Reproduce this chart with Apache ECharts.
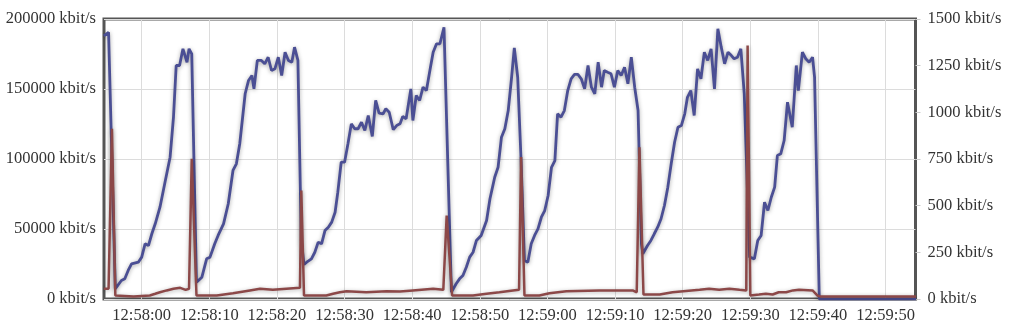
<!DOCTYPE html>
<html>
<head>
<meta charset="utf-8">
<script src="https://cdn.jsdelivr.net/npm/echarts@6/dist/echarts.min.js"></script>
<style>html,body{margin:0;padding:0;background:#fff}#chart{width:1023px;height:331px}</style>
</head>
<body>
<div id="chart"></div>
<script>
// x values: seconds relative to 12:58:00
const tickSeconds = [0, 10, 20, 30, 40, 50, 60, 70, 80, 90, 100, 110];
const tickLabels = ['12:58:00','12:58:10','12:58:20','12:58:30','12:58:40','12:58:50','12:59:00','12:59:10','12:59:20','12:59:30','12:59:40','12:59:50'];
const viewStart = -5.575;   // 12:57:54.4
const viewEnd = 114.425;    // 12:59:54.4

// blue series (left axis, kbit/s)
const blueTimes = [-5.6,-4.9,-3.9,-3.0,-2.5,-2.0,-1.5,-0.5,0.0,0.5,1.0,1.5,2.0,2.7,3.4,4.2,4.7,5.1,5.6,6.1,6.7,7.0,7.4,
  8.1,8.9,9.6,10.1,10.8,11.3,12.1,12.8,13.5,14.0,14.5,15.3,15.8,16.3,16.6,17.1,17.7,18.2,18.7,19.2,19.7,20.2,20.7,21.2,21.7,22.2,22.6,23.1,23.6,
  24.0,24.4,25.1,25.6,26.1,26.6,27.1,27.6,28.1,28.6,29.0,29.5,30.0,30.5,31.0,31.5,32.0,32.5,33.0,33.5,34.1,34.6,35.1,35.7,36.1,36.6,37.2,37.7,38.2,38.6,39.1,39.8,40.1,40.6,41.1,41.6,42.1,42.7,43.1,43.6,44.1,44.7,
  45.8,46.5,47.0,47.5,48.0,48.5,49.0,49.5,50.2,51.0,51.5,52.2,52.7,53.2,53.7,54.2,54.7,55.1,55.6,56.1,56.6,
  57.1,57.6,58.1,58.6,59.1,59.6,60.1,60.6,61.1,61.5,62.0,62.5,63.0,63.5,64.0,64.5,65.0,65.5,66.0,66.5,67.0,67.5,68.0,68.4,68.9,69.4,69.9,70.4,70.9,71.4,71.9,72.4,72.9,73.4,73.9,
  74.1,74.8,75.3,75.8,76.3,76.8,77.3,77.8,78.3,78.8,79.3,79.8,80.3,80.7,81.2,81.7,82.2,82.7,83.2,83.7,84.2,84.7,85.2,85.7,86.2,86.7,87.2,87.6,88.1,88.6,89.1,
  89.9,90.6,91.1,91.6,92.1,92.6,93.1,93.6,94.0,94.5,95.0,95.5,96.2,96.8,97.1,97.7,98.2,98.7,99.2,99.5,100.2,105,110,114.5];
const blueValues = [188000,190500,7300,13200,14400,20400,25100,26300,29900,39400,38200,46600,53700,65600,82300,101300,129900,166800,166800,178700,169100,178700,175100,
  12000,15600,28700,29900,39400,45400,53700,68000,91800,96600,110900,146600,156100,159600,150100,170400,170400,168000,172700,163200,164400,172700,159600,176300,170400,169100,179900,170400,41800,
  24600,26300,28700,33400,40600,39400,48900,51300,54900,62000,76300,97700,97700,110900,125100,121600,121600,126300,120400,131100,116100,141800,132700,132300,135900,133400,120900,123900,125100,130400,128700,150100,127500,145400,141800,151300,148900,165600,176300,182300,182300,194100,
  4900,10900,14400,16800,22700,29900,33400,41800,45400,56100,71600,87000,94100,115600,121600,134600,158400,179400,158400,98900,27500,
  26300,39400,45400,50100,58400,63200,73900,94100,98900,132300,129900,134600,148900,157300,160400,160400,157300,150100,166800,151300,146600,169100,151300,163200,162000,160900,151300,163200,159600,165600,153700,172700,151300,134600,39400,
  32300,38200,41800,46600,51300,57300,66800,79900,96600,112000,122700,123900,132300,144100,148900,131100,164400,157300,176300,170400,178700,150100,193000,179900,168000,176300,173900,171600,172700,178700,146600,
  29900,28700,41800,45400,69100,63200,72700,79900,102500,103700,113200,140600,122700,166800,148900,176300,171600,169100,172700,158400,0,0,0,0];

// red series (right axis, kbit/s)
const redTimes = [-5.6,-4.9,-4.4,-3.9,-1.2,1.2,2.0,2.7,3.7,4.7,5.7,6.5,7.0,7.4,8.1,11.1,13.5,16.0,17.5,19.4,21.4,23.4,23.6,24.0,
  27.3,28.3,29.3,30.3,33.2,36.2,38.2,40.1,43.1,44.6,45.1,45.9,49.0,51.0,52.9,54.9,55.8,56.1,56.6,58.8,60.3,62.8,67.7,72.6,73.2,73.6,74.2,
  76.6,78.5,82.5,83.9,85.4,86.9,88.4,89.4,89.6,90.0,91.3,92.3,93.3,94.2,95.3,96.3,97.2,99.2,99.9,100.4,114.5];
const redValues = [55,55,912,19,13,19,28,36,46,55,60,49,55,751,19,19,31,46,55,49,55,60,581,19,
  19,28,36,42,36,42,40,46,55,49,447,19,19,28,36,46,49,760,19,19,31,42,46,46,36,813,24,
  24,36,49,55,49,55,49,46,1358,19,24,28,24,36,36,46,49,46,19,13,13];

const leftAxisMax = 200000, leftAxisStep = 50000;
const rightAxisMax = 1500, rightAxisStep = 250;
const unit = ' kbit/s';

const pair = (ts, vs) => ts.map((t, i) => [t, vs[i]]);
const labelFont = {color: '#333', fontFamily: '"Liberation Serif", "Times New Roman", serif', fontSize: 16.5};

const chart = echarts.init(document.getElementById('chart'), null, {renderer: 'canvas'});
chart.setOption({
  animation: false,
  backgroundColor: '#fff',
  grid: {left: 104, right: 107.5, top: 19, bottom: 32, show: true, borderColor: '#555', borderWidth: 3, backgroundColor: 'transparent'},
  xAxis: {
    type: 'value', min: viewStart, max: viewEnd,
    axisLine: {show: false},
    axisTick: {show: false, customValues: tickSeconds},
    axisLabel: Object.assign({margin: 8, customValues: tickSeconds,
      formatter: v => tickLabels[tickSeconds.indexOf(Math.round(v))] || ''}, labelFont),
    splitLine: {show: true, lineStyle: {color: '#dcdcdc', width: 1}}
  },
  yAxis: [{
    type: 'value', min: 0, max: leftAxisMax, interval: leftAxisStep,
    axisLine: {show: false}, axisTick: {show: false},
    axisLabel: Object.assign({margin: 8, formatter: v => v + unit}, labelFont),
    splitLine: {show: true, lineStyle: {color: '#dcdcdc', width: 1}}
  }, {
    type: 'value', min: 0, max: rightAxisMax, interval: rightAxisStep, position: 'right',
    axisLine: {show: false},
    axisTick: {show: true, length: 5, lineStyle: {color: '#ccc'}},
    axisLabel: Object.assign({margin: 12, formatter: v => v + unit}, labelFont),
    splitLine: {show: false}
  }],
  series: [{
    type: 'line', yAxisIndex: 0, data: pair(blueTimes, blueValues), showSymbol: false,
    lineStyle: {color: '#4b4f94', width: 2.8, shadowColor: 'rgba(0,0,0,0.35)', shadowBlur: 4, shadowOffsetY: 1},
    z: 3
  }, {
    type: 'line', yAxisIndex: 1, data: pair(redTimes, redValues), showSymbol: false,
    lineStyle: {color: '#8c4848', width: 2.5, shadowColor: 'rgba(0,0,0,0.3)', shadowBlur: 4, shadowOffsetY: 1},
    z: 4
  }]
});
</script>
</body>
</html>
